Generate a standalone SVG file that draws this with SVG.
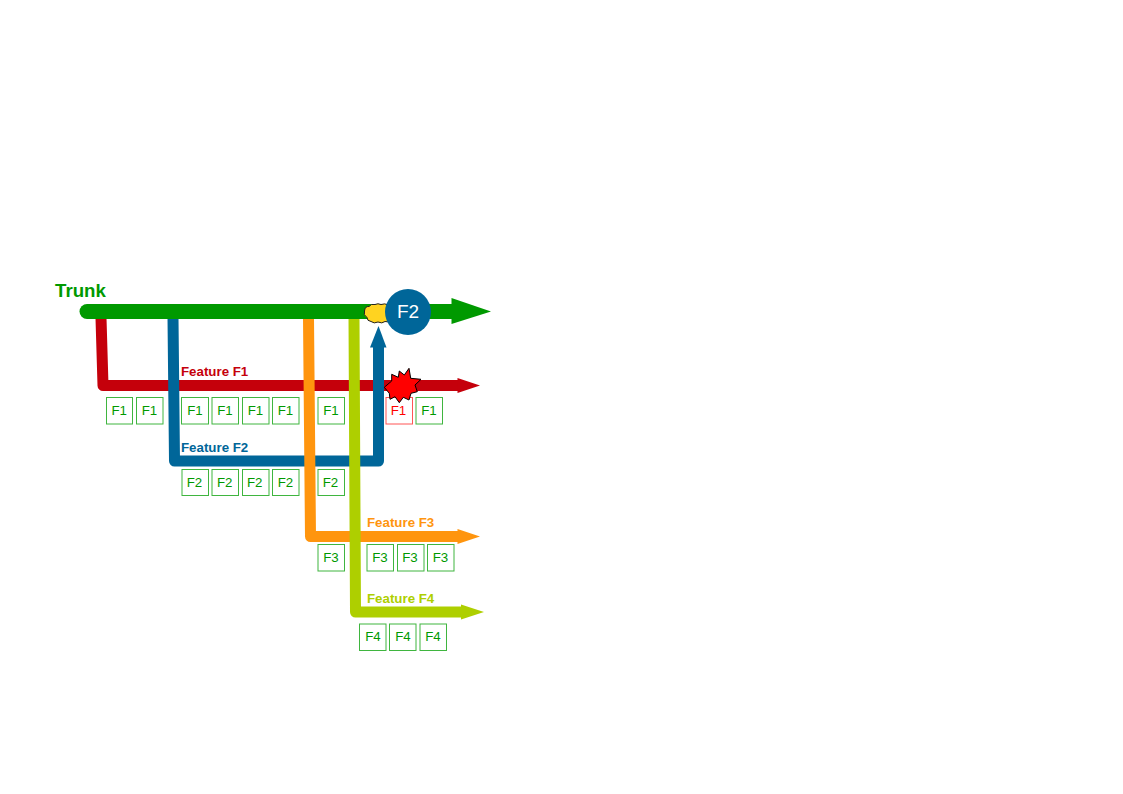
<svg xmlns="http://www.w3.org/2000/svg" width="1123" height="794" viewBox="0 0 1123 794">
<style>
text{font-family:"Liberation Sans",Arial,sans-serif}
.line{fill:none;stroke-width:11;stroke-linecap:round;stroke-linejoin:round}
.box{fill:#fff;stroke:#3fb53f;stroke-width:1}
.bt{font-size:13.300px;fill:#009900;text-anchor:middle}
.lab{font-size:13.300px;font-weight:700}
</style>
<rect width="1123" height="794" fill="#fff"/>
<g id="connectors">
<path class="line" stroke="#c5000b" d="M101 318L103 385.500H460"/><path fill="#c5000b" d="M457.500 378L480 385.500L457.500 393Z"/>
<path class="line" stroke="#006699" d="M173 318L174.500 461H378.500V345"/><path fill="#006699" d="M370 347.500L378.500 326L386.500 347.500Z"/>
<path class="line" stroke="#ff950e" d="M308.500 318L310.500 536.500H460"/><path fill="#ff950e" d="M457.500 529L480 536.500L457.500 544Z"/>
<path class="line" stroke="#aecf00" d="M354 318L355.500 612H463"/><path fill="#aecf00" d="M461 604.500L484 612L461 619.500Z"/>
<path fill="none" stroke="#009900" stroke-width="15" stroke-linecap="round" d="M87 311.500H455"/><path fill="#009900" d="M451.500 298L491 311.500L451.500 324Z"/>
</g>
<g id="labels">
<text x="55" y="297" font-size="18.700" font-weight="700" fill="#009900">Trunk</text>
<text class="lab" x="181" y="376" fill="#c5000b">Feature F1</text>
<text class="lab" x="181" y="452" fill="#006699">Feature F2</text>
<text class="lab" x="367" y="527" fill="#ff950e">Feature F3</text>
<text class="lab" x="367" y="603" fill="#aecf00">Feature F4</text>
</g>
<g id="f1-boxes">
<rect class="box" x="106.500" y="397.500" width="26" height="26.500"/><text class="bt" x="119.200" y="415">F1</text>
<rect class="box" x="136.500" y="397.500" width="26.500" height="26.500"/><text class="bt" x="149.500" y="415">F1</text>
<rect class="box" x="181.500" y="397.500" width="27" height="26.500"/><text class="bt" x="195" y="415">F1</text>
<rect class="box" x="212" y="397.500" width="26.500" height="26.500"/><text class="bt" x="225" y="415">F1</text>
<rect class="box" x="242.500" y="397.500" width="26.500" height="26.500"/><text class="bt" x="255.500" y="415">F1</text>
<rect class="box" x="272.500" y="397.500" width="26.500" height="26.500"/><text class="bt" x="285.500" y="415">F1</text>
<rect class="box" x="318" y="397.500" width="26.500" height="26.500"/><text class="bt" x="331" y="415">F1</text>
<rect x="386" y="397.500" width="26.500" height="26.500" fill="#fff" stroke="#ff5555"/><text class="bt" x="398.500" y="415" style="fill:#ff0000">F1</text>
<rect class="box" x="416" y="397.500" width="26.500" height="26.500"/><text class="bt" x="429" y="415">F1</text>
</g>
<g id="f2-boxes">
<rect class="box" x="182" y="469.500" width="26.500" height="26"/><text class="bt" x="194.500" y="487">F2</text>
<rect class="box" x="212" y="469.500" width="26.500" height="26"/><text class="bt" x="224.700" y="487">F2</text>
<rect class="box" x="242.500" y="469.500" width="26.500" height="26"/><text class="bt" x="254.700" y="487">F2</text>
<rect class="box" x="272.500" y="469.500" width="26.500" height="26"/><text class="bt" x="285.500" y="487">F2</text>
<rect class="box" x="318" y="469.500" width="26.500" height="26"/><text class="bt" x="330.500" y="487">F2</text>
</g>
<g id="f3-boxes">
<rect class="box" x="318" y="544.500" width="26.500" height="26.500"/><text class="bt" x="331" y="562">F3</text>
<rect class="box" x="367" y="544.500" width="26.500" height="26.500"/><text class="bt" x="380" y="562">F3</text>
<rect class="box" x="397.500" y="544.500" width="26.500" height="26.500"/><text class="bt" x="410" y="562">F3</text>
<rect class="box" x="427.500" y="544.500" width="26.500" height="26.500"/><text class="bt" x="440.500" y="562">F3</text>
</g>
<g id="f4-boxes">
<rect class="box" x="359.500" y="624" width="26.500" height="26.500"/><text class="bt" x="373" y="641">F4</text>
<rect class="box" x="389.500" y="624" width="26.500" height="26.500"/><text class="bt" x="403" y="641">F4</text>
<rect class="box" x="420" y="624" width="26.500" height="26.500"/><text class="bt" x="433" y="641">F4</text>
</g>
<g id="merge-cloud">
<path fill="#ffd320" stroke="#222" stroke-width="1" d="M364.500 311Q365 306 369 306.500Q371 303.500 375 304.500Q378 303 381 304.500Q385 303 388 305L392 320Q388 323 385 321.500Q382 324 378 322Q374 324 371 321.500Q367 321 367 317.500Q363 315 364.500 311Z"/>
</g>
<g id="f2-node">
<circle cx="408" cy="312" r="23" fill="#006699"/>
<text x="408" y="318" font-size="19" fill="#fff" text-anchor="middle">F2</text>
</g>
<g id="conflict-burst">
<path fill="#ff0000" stroke="#000" stroke-width="1" d="M384.300 387.300L391.700 381L391.700 374.300L398.300 377.300L399.300 371L404.300 375L409 368.300L410.700 378.300L421 379.300L415 385L417.300 391.700L411 393.300L409 400L403.300 397.300L399.300 402.700L395 396.700L390 399.300L389.300 393.300Z"/>
</g>
</svg>
